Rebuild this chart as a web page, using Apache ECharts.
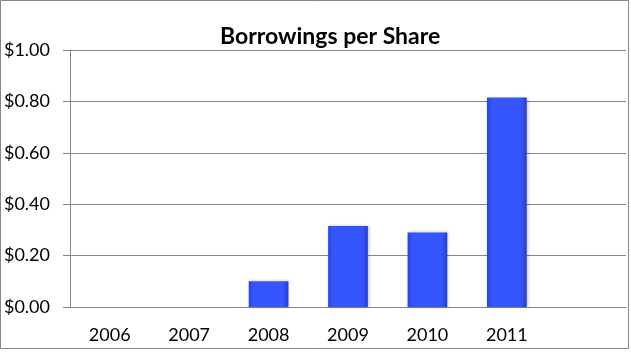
<!DOCTYPE html>
<html>
<head>
<meta charset="utf-8">
<script src="https://cdn.jsdelivr.net/npm/echarts@6/dist/echarts.min.js"></script>
<style>
html,body{margin:0;padding:0;background:#fff;}
#chart{width:631px;height:353px;}
</style>
</head>
<body>
<div id="chart"></div>
<script>
const titleText = 'Borrowings per Share';
const categories = ['2006', '2007', '2008', '2009', '2010', '2011', ''];
const borrowings = [0, 0, 0.10, 0.315, 0.29, 0.815, null];
const yTicks = [0, 0.2, 0.4, 0.6, 0.8, 1.0];

const chart = echarts.init(document.getElementById('chart'), null, {renderer: 'canvas'});
const gray = '#868686';
const barGrad = new echarts.graphic.LinearGradient(0, 0, 1, 0, [
  {offset: 0, color: '#2743e6'},
  {offset: 0.12, color: '#3556ff'},
  {offset: 0.85, color: '#3556ff'},
  {offset: 1, color: '#243ddc'}
]);
chart.setOption({
  animation: false,
  backgroundColor: '#fff',
  title: {
    text: titleText,
    left: 215,
    top: 20,
    textStyle: {fontFamily: 'Lato', fontWeight: 'bold', fontSize: 23, color: '#000'}
  },
  grid: {left: 70, right: 5, top: 50, bottom: 46, containLabel: false},
  xAxis: {
    type: 'category',
    data: categories,
    axisLine: {show: true, lineStyle: {color: gray, width: 1}},
    axisTick: {show: false},
    axisLabel: {color: '#000', fontFamily: 'Lato', fontSize: 18, margin: 19}
  },
  yAxis: {
    type: 'value',
    min: yTicks[0],
    max: yTicks[yTicks.length - 1],
    interval: 0.2,
    axisLine: {show: true, lineStyle: {color: gray, width: 1}},
    axisTick: {show: true, length: 7, lineStyle: {color: gray}},
    splitLine: {show: true, lineStyle: {color: gray, width: 1}},
    axisLabel: {
      color: '#000', fontFamily: 'Lato', fontSize: 18, margin: 20,
      formatter: v => '$' + v.toFixed(2)
    }
  },
  series: [{
    type: 'bar',
    data: borrowings,
    barWidth: '50%',
    itemStyle: {
      color: barGrad,
      shadowColor: 'rgba(0,0,0,0.25)',
      shadowBlur: 3,
      shadowOffsetX: 1,
      shadowOffsetY: 0
    }
  }],
  graphic: [{
    type: 'rect',
    shape: {x: 0.5, y: 0.5, width: 628, height: 348},
    style: {fill: null, stroke: gray, lineWidth: 1},
    silent: true,
    z: 100
  }]
});
</script>
</body>
</html>
